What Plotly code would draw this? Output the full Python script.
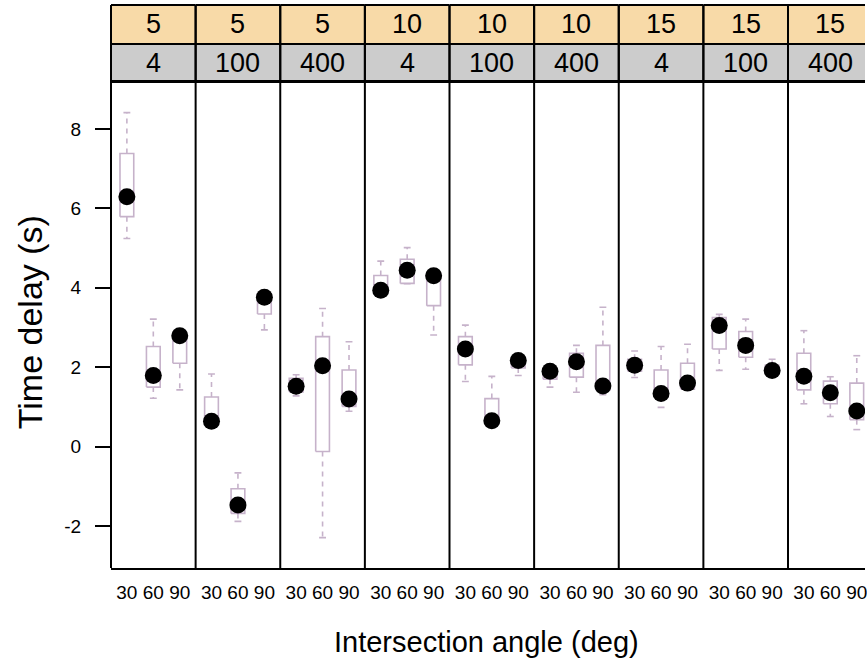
import plotly.graph_objects as go

# ---------------- data ----------------
strip_top = ["5", "5", "5", "10", "10", "10", "15", "15", "15"]
strip_bottom = ["4", "100", "400", "4", "100", "400", "4", "100", "400"]
angle_labels = ["30", "60", "90"]
angle_pos = [1, 2, 3]

# per panel, per angle (30, 60, 90): lower whisker, Q1, median, Q3, upper whisker
whisker_low = [5.24, 1.22, 1.43,   0.60, -1.88, 2.94,   1.28, -2.29, 0.89,
               3.85, 4.10, 2.81,   1.64, 0.60, 1.79,    1.50, 1.37, 1.31,
               1.74, 0.99, 1.43,   1.92, 1.95, 1.85,    1.08, 0.76, 0.43]
q1 =          [5.79, 1.50, 2.10,   0.62, -1.68, 3.34,   1.38, -0.12, 1.01,
               3.90, 4.11, 3.55,   2.06, 0.62, 1.98,    1.70, 1.75, 1.42,
               1.90, 1.25, 1.45,   2.46, 2.25, 1.87,    1.43, 1.08, 0.68]
median =      [6.29, 1.79, 2.79,   0.64, -1.47, 3.76,   1.52, 2.04, 1.20,
               3.94, 4.44, 4.30,   2.46, 0.65, 2.17,    1.90, 2.14, 1.53,
               2.05, 1.34, 1.60,   3.05, 2.55, 1.92,    1.77, 1.36, 0.90]
q3 =          [7.38, 2.52, 2.80,   1.25, -1.06, 3.85,   1.72, 2.77, 1.93,
               4.31, 4.72, 4.35,   2.77, 1.21, 2.22,    1.95, 2.35, 2.55,
               2.20, 1.93, 2.10,   3.25, 2.90, 2.05,    2.35, 1.65, 1.60]
whisker_high = [8.41, 3.21, 2.85,  1.83, -0.66, 3.90,   1.81, 3.48, 2.64,
                4.67, 5.01, 4.38,  3.06, 1.77, 2.26,    1.98, 2.55, 3.51,
                2.41, 2.52, 2.58,  3.33, 3.21, 2.20,    2.92, 1.76, 2.29]

y_ticks = [-2, 0, 2, 4, 6, 8]
y_tick_labels = ["-2", "0", "2", "4", "6", "8"]

# ---------------- styling / geometry ----------------
FONT = "Liberation Sans, Arial, sans-serif"
BOX_COL = "#C6B2CA"
W, H = 867, 662
L_M, R_M, T_M, B_M = 111, 0, 5, 94
plot_w = W - L_M - R_M
plot_h = H - T_M - B_M
panel_px = 84.85
px_per_unit = panel_px / 3.2
y_dom_top = (H - B_M - 82) / plot_h
strip_mid = (H - B_M - 44) / plot_h
half_box = 0.26
half_cap = 0.13

fig = go.Figure()
layout_axes = {}
shapes = []
annotations = []

for k in range(9):
    xa = "x" if k == 0 else f"x{k+1}"
    xkey = "xaxis" if k == 0 else f"xaxis{k+1}"
    rx, ry, wx, wy, cx, cy = [], [], [], [], [], []
    dx, dy = [], []
    for j, p in enumerate(angle_pos):
        i = 3 * k + j
        rx += [p - half_box, p + half_box, p + half_box, p - half_box, p - half_box, None]
        ry += [q1[i], q1[i], q3[i], q3[i], q1[i], None]
        wx += [p, p, None, p, p, None]
        wy += [q3[i], whisker_high[i], None, q1[i], whisker_low[i], None]
        cx += [p - half_cap, p + half_cap, None, p - half_cap, p + half_cap, None]
        cy += [whisker_high[i], whisker_high[i], None, whisker_low[i], whisker_low[i], None]
        dx.append(p)
        dy.append(median[i])
    fig.add_trace(go.Scatter(x=wx, y=wy, xaxis=xa, yaxis="y", mode="lines",
                             line=dict(color=BOX_COL, width=1.6, dash="5px,5px"),
                             hoverinfo="skip", showlegend=False))
    fig.add_trace(go.Scatter(x=cx, y=cy, xaxis=xa, yaxis="y", mode="lines",
                             line=dict(color=BOX_COL, width=1.6),
                             hoverinfo="skip", showlegend=False))
    fig.add_trace(go.Scatter(x=rx, y=ry, xaxis=xa, yaxis="y", mode="lines",
                             line=dict(color=BOX_COL, width=1.6),
                             hoverinfo="skip", showlegend=False))
    fig.add_trace(go.Scatter(x=dx, y=dy, xaxis=xa, yaxis="y", mode="markers",
                             marker=dict(color="black", size=17),
                             showlegend=False))

    left_px = k * panel_px
    right_px = min((k + 1) * panel_px, plot_w)
    d0 = left_px / plot_w
    d1 = right_px / plot_w
    x_end = 0.4 + (right_px - left_px) / px_per_unit
    layout_axes[xkey] = dict(
        domain=[d0, d1], range=[0.4, x_end], anchor="y",
        tickmode="array", tickvals=angle_pos, ticktext=angle_labels,
        showline=True, mirror=True, linecolor="black", linewidth=2,
        showgrid=False, zeroline=False, ticks="", ticklabelstandoff=6,
        ticklabeloverflow="allow",
        tickfont=dict(size=19, color="black", family=FONT), fixedrange=True,
    )
    # strips
    shapes.append(dict(type="rect", xref=xa, yref="paper", x0=0.4, x1=3.6,
                       y0=strip_mid, y1=1.0, fillcolor="#F8DAA8",
                       line=dict(color="black", width=2), layer="below"))
    shapes.append(dict(type="rect", xref=xa, yref="paper", x0=0.4, x1=3.6,
                       y0=y_dom_top, y1=strip_mid, fillcolor="#CCCCCC",
                       line=dict(color="black", width=2), layer="below"))
    # panel separator
    shapes.append(dict(type="line", xref="paper", yref="paper", x0=d0, x1=d0,
                       y0=0, y1=1.0, line=dict(color="black", width=2)))
    annotations.append(dict(x=2, xref=xa, y=(strip_mid + 1.0) / 2, yref="paper",
                            text=strip_top[k], showarrow=False,
                            font=dict(size=27, color="black", family=FONT),
                            xanchor="center", yanchor="middle"))
    annotations.append(dict(x=2, xref=xa, y=(strip_mid + y_dom_top) / 2, yref="paper",
                            text=strip_bottom[k], showarrow=False,
                            font=dict(size=27, color="black", family=FONT),
                            xanchor="center", yanchor="middle"))

annotations.append(dict(x=(487 - L_M) / plot_w, xref="paper",
                        y=(H - B_M - 642) / plot_h, yref="paper",
                        text="Intersection angle (deg)", showarrow=False,
                        font=dict(size=29, color="black", family=FONT),
                        xanchor="center", yanchor="middle"))
annotations.append(dict(x=(30 - L_M) / plot_w, xref="paper",
                        y=(H - B_M - 322) / plot_h, yref="paper",
                        text="Time delay (s)", showarrow=False, textangle=-90,
                        font=dict(size=34, color="black", family=FONT),
                        xanchor="center", yanchor="middle"))

fig.update_layout(
    width=W, height=H,
    margin=dict(l=L_M, r=R_M, t=T_M, b=B_M, pad=0),
    paper_bgcolor="white", plot_bgcolor="white",
    font=dict(family=FONT, color="black"),
    showlegend=False,
    yaxis=dict(domain=[0, y_dom_top], range=[-3.054, 9.18], anchor="x",
               tickmode="array", tickvals=y_ticks, ticktext=y_tick_labels,
               ticks="outside", ticklen=15, tickwidth=1.5, tickcolor="black",
               showline=False, showgrid=False, zeroline=False,
               ticklabelstandoff=10,
               tickfont=dict(size=19, color="black", family=FONT), fixedrange=True),
    shapes=shapes,
    annotations=annotations,
    **layout_axes,
)

fig.write_html("out.html", config={"displayModeBar": False},
               post_script="document.body.style.margin='0px';")
